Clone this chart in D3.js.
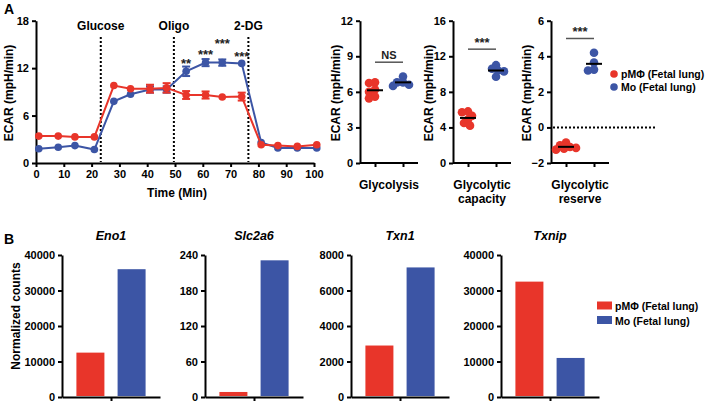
<!DOCTYPE html>
<html>
<head>
<meta charset="utf-8">
<script src="https://cdn.jsdelivr.net/npm/d3@7"></script>
<style>
  body { margin: 0; background: #fff; }
  text { font-family: "Liberation Sans", Arial, sans-serif; font-weight: bold; }
</style>
</head>
<body>
<div id="main-container"></div>
<script>
// DATA
const timePts = [1, 8, 14, 21, 28, 34, 41, 47, 54, 61, 67, 74, 81, 87, 94, 101];
const redEcar = [3.4, 3.4, 3.3, 3.3, 9.8, 9.4, 9.4, 9.5, 8.6, 8.6, 8.35, 8.4, 2.3, 2.2, 2.1, 2.3];
const redSem  = [0.1, 0.1, 0.1, 0.1, 0.2, 0.2, 0.5, 0.6, 0.5, 0.45, 0.15, 0.5, 0.2, 0.2, 0.1, 0.2];
const blueEcar = [1.8, 2.0, 2.2, 1.7, 7.8, 8.7, 9.3, 9.3, 11.6, 12.7, 12.7, 12.6, 2.6, 1.9, 1.9, 1.9];
const blueSem  = [0.1, 0.1, 0.1, 0.1, 0.2, 0.2, 0.4, 0.4, 0.6, 0.45, 0.4, 0.1, 0.2, 0.1, 0.1, 0.1];
const injections = [{t: 23.3, label: "Glucose"}, {t: 49.6, label: "Oligo"}, {t: 76.4, label: "2-DG"}];
const stars = [{t: 54, v: 12.0, s: "**"}, {t: 61, v: 13.2, s: "***"}, {t: 67, v: 14.6, s: "***"}, {t: 74, v: 12.9, s: "***"}];

const glycolysisRed = [6.8, 6.75, 6.2, 6.0, 5.6, 5.45];
const glycolysisBlue = [7.3, 6.8, 6.8, 6.6, 6.5];
const capacityRed = [5.8, 5.7, 5.3, 4.9, 4.5, 4.2];
const capacityBlue = [11.0, 10.6, 10.4, 10.3, 9.7];
const reserveRed = [-0.85, -1.0, -1.1, -1.15, -1.2, -1.25];
const reserveBlue = [4.2, 3.65, 3.25, 3.2];

const genes = ["Eno1", "Slc2a6", "Txn1", "Txnip"];
const countsRed = [12500, 8.5, 2900, 32500];
const countsBlue = [36000, 231, 7300, 11000];
const countsMax = [40000, 240, 8000, 40000];
const countsStep = [10000, 60, 2000, 10000];

const legendLabels = ["pMΦ (Fetal lung)", "Mo (Fetal lung)"];
const RED = "#e8352a", BLUE = "#3c55a5";

// DRAWING SETUP
const svg = d3.select("#main-container").append("svg")
    .attr("width", 708).attr("height", 406);

function styleAxis(g) {
    g.selectAll("path, line").attr("stroke", "#000").attr("stroke-width", 2);
    g.selectAll("text").attr("font-size", 11).attr("fill", "#000");
}

svg.append("text").attr("x", 4).attr("y", 14).attr("font-size", 14).text("A");
svg.append("text").attr("x", 4).attr("y", 244).attr("font-size", 14).text("B");

// LINE CHART
const x = d3.scaleLinear().domain([0, 100]).range([36, 314]);
const y = d3.scaleLinear().domain([0, 18]).range([163, 20.7]);

svg.append("g").attr("transform", "translate(0,163)")
    .call(d3.axisBottom(x).tickValues(d3.range(0, 101, 10)).tickSize(4).tickSizeOuter(0))
    .call(styleAxis);
svg.append("g").attr("transform", "translate(36,0)")
    .call(d3.axisLeft(y).tickValues([0, 6, 12, 18]).tickSize(4).tickSizeOuter(0))
    .call(styleAxis);

svg.append("text").attr("transform", "translate(13,93) rotate(-90)")
    .attr("text-anchor", "middle").attr("font-size", 12).text("ECAR (mpH/min)");
svg.append("text").attr("x", 177).attr("y", 197)
    .attr("text-anchor", "middle").attr("font-size", 12).text("Time (Min)");

injections.forEach(d => {
    svg.append("line").attr("x1", x(d.t)).attr("x2", x(d.t))
        .attr("y1", 37).attr("y2", 162)
        .attr("stroke", "#000").attr("stroke-width", 2).attr("stroke-dasharray", "2,2");
    svg.append("text").attr("x", x(d.t)).attr("y", 30)
        .attr("text-anchor", "middle").attr("font-size", 12).text(d.label);
});

function drawSeries(vals, sems, color) {
    const pts = timePts.map((t, i) => ({t: t, v: vals[i], e: sems[i]}));
    svg.append("path").datum(pts)
        .attr("fill", "none").attr("stroke", color).attr("stroke-width", 2)
        .attr("d", d3.line().x(d => x(d.t)).y(d => y(d.v)));
    const eb = svg.append("g").attr("stroke", color).attr("stroke-width", 2);
    pts.filter(d => d.e >= 0.3).forEach(d => {
        eb.append("line").attr("x1", x(d.t)).attr("x2", x(d.t))
            .attr("y1", y(d.v - d.e)).attr("y2", y(d.v + d.e));
        [d.v - d.e, d.v + d.e].forEach(v => {
            eb.append("line").attr("x1", x(d.t) - 4).attr("x2", x(d.t) + 4)
                .attr("y1", y(v)).attr("y2", y(v));
        });
    });
    svg.append("g").selectAll("circle").data(pts).enter().append("circle")
        .attr("cx", d => x(d.t)).attr("cy", d => y(d.v)).attr("r", 3.8)
        .attr("fill", color);
}
drawSeries(blueEcar, blueSem, BLUE);
drawSeries(redEcar, redSem, RED);

stars.forEach(d => {
    svg.append("text").attr("x", x(d.t)).attr("y", y(d.v))
        .attr("text-anchor", "middle").attr("font-size", 13).attr("fill", "#222").text(d.s);
});

// SCATTER PANELS
function swarm(vals, cx, yScale, minDist) {
    const placed = [];
    vals.slice().sort((a, b) => b - a).forEach(v => {
        const py = yScale(v);
        for (let k = 0; k < 20; k++) {
            const off = (k % 2 === 0 ? 1 : -1) * Math.ceil(k / 2) * 2;
            const px = cx + off;
            if (k === 19 || placed.every(p => Math.hypot(p.x - px, p.y - py) >= minDist)) {
                placed.push({x: px, y: py});
                break;
            }
        }
    });
    return placed;
}

function scatterPanel(ax, domain, ticks, redVals, blueVals, sig, sigVal, label, zeroLine) {
    const ys = d3.scaleLinear().domain(domain).range([163, 20.7]);
    const xs = d3.scalePoint().domain(["r", "b"]).range([ax + 15, ax + 43]);
    svg.append("g").attr("transform", `translate(0,163)`)
        .call(d3.axisBottom(xs).tickSize(4).tickFormat("").tickSizeOuter(0))
        .call(g => g.select(".domain").attr("d", `M${ax},0H${ax + 58}`))
        .call(styleAxis);
    svg.append("g").attr("transform", `translate(${ax},0)`)
        .call(d3.axisLeft(ys).tickValues(ticks).tickSize(4).tickSizeOuter(0))
        .call(styleAxis);
    svg.append("text").attr("transform", `translate(${ax - 20},93) rotate(-90)`)
        .attr("text-anchor", "middle").attr("font-size", 12).text("ECAR (mpH/min)");
    if (zeroLine) {
        svg.append("line").attr("x1", ax + 2).attr("x2", ax + 104)
            .attr("y1", ys(0)).attr("y2", ys(0))
            .attr("stroke", "#000").attr("stroke-width", 2).attr("stroke-dasharray", "2,2");
    }
    [[redVals, "r", RED], [blueVals, "b", BLUE]].forEach(([vals, key, color]) => {
        swarm(vals, xs(key), ys, 5).forEach(p => {
            svg.append("circle").attr("cx", p.x).attr("cy", p.y).attr("r", 4.3).attr("fill", color);
        });
        const m = d3.mean(vals);
        svg.append("line").attr("x1", xs(key) - 8).attr("x2", xs(key) + 8)
            .attr("y1", ys(m)).attr("y2", ys(m))
            .attr("stroke", "#000").attr("stroke-width", 2);
    });
    svg.append("line").attr("x1", xs("r")).attr("x2", xs("b"))
        .attr("y1", ys(sigVal)).attr("y2", ys(sigVal))
        .attr("stroke", "#555").attr("stroke-width", 1.5);
    svg.append("text").attr("x", (xs("r") + xs("b")) / 2).attr("y", ys(sigVal) - (sig === "NS" ? 3 : 2))
        .attr("text-anchor", "middle").attr("font-size", sig === "NS" ? 11 : 13)
        .attr("font-weight", sig === "NS" ? "normal" : "bold").attr("fill", "#222").text(sig);
    label.forEach((l, i) => {
        svg.append("text").attr("x", ax + 29).attr("y", 189 + i * 14)
            .attr("text-anchor", "middle").attr("font-size", 12).text(l);
    });
}

scatterPanel(360, [0, 12], [0, 3, 6, 9, 12], glycolysisRed, glycolysisBlue, "NS", 8.5, ["Glycolysis"], false);
scatterPanel(453, [0, 16], [0, 4, 8, 12, 16], capacityRed, capacityBlue, "***", 12.8, ["Glycolytic", "capacity"], false);
scatterPanel(551, [-2, 6], [-2, 0, 2, 4, 6], reserveRed, reserveBlue, "***", 5.0, ["Glycolytic", "reserve"], true);

// legend A
legendLabels.forEach((l, i) => {
    svg.append("circle").attr("cx", 614).attr("cy", 74 + i * 13).attr("r", 3.8)
        .attr("fill", i === 0 ? RED : BLUE);
    svg.append("text").attr("x", 621).attr("y", 78 + i * 13).attr("font-size", 10.5).text(l);
});

// BAR PANELS
const barLeft = [62, 205, 351, 501];
genes.forEach((gene, i) => {
    const ax = barLeft[i];
    const ys = d3.scaleLinear().domain([0, countsMax[i]]).range([397, 255]);
    const xs = d3.scaleBand().domain(["r", "b"]).range([ax, ax + 98])
        .paddingInner(0.32).paddingOuter(0.35);
    svg.append("g").attr("transform", "translate(0,397)")
        .call(d3.axisBottom(d3.scalePoint().domain(["c"]).range([ax, ax + 98]).padding(0.5))
            .tickSize(4).tickFormat("").tickSizeOuter(0))
        .call(styleAxis);
    svg.append("g").attr("transform", `translate(${ax},0)`)
        .call(d3.axisLeft(ys).tickValues(d3.range(0, countsMax[i] + 1, countsStep[i]))
            .tickFormat(d3.format("d")).tickSize(4).tickSizeOuter(0))
        .call(styleAxis);
    [["r", countsRed[i], RED], ["b", countsBlue[i], BLUE]].forEach(([k, v, c]) => {
        svg.append("rect").attr("x", xs(k)).attr("width", xs.bandwidth())
            .attr("y", ys(v)).attr("height", 396 - ys(v)).attr("fill", c);
    });
    svg.append("text").attr("x", ax + 49).attr("y", 240)
        .attr("text-anchor", "middle").attr("font-size", 12.5)
        .attr("font-style", "italic").text(gene);
});
svg.append("text").attr("transform", "translate(20,316) rotate(-90)")
    .attr("text-anchor", "middle").attr("font-size", 12).text("Normalized counts");

// legend B
legendLabels.forEach((l, i) => {
    svg.append("rect").attr("x", 597).attr("y", 301.5 + i * 14.5)
        .attr("width", 15).attr("height", 8).attr("fill", i === 0 ? RED : BLUE);
    svg.append("text").attr("x", 615).attr("y", 310 + i * 14.5).attr("font-size", 10.5).text(l);
});
</script>
</body>
</html>
